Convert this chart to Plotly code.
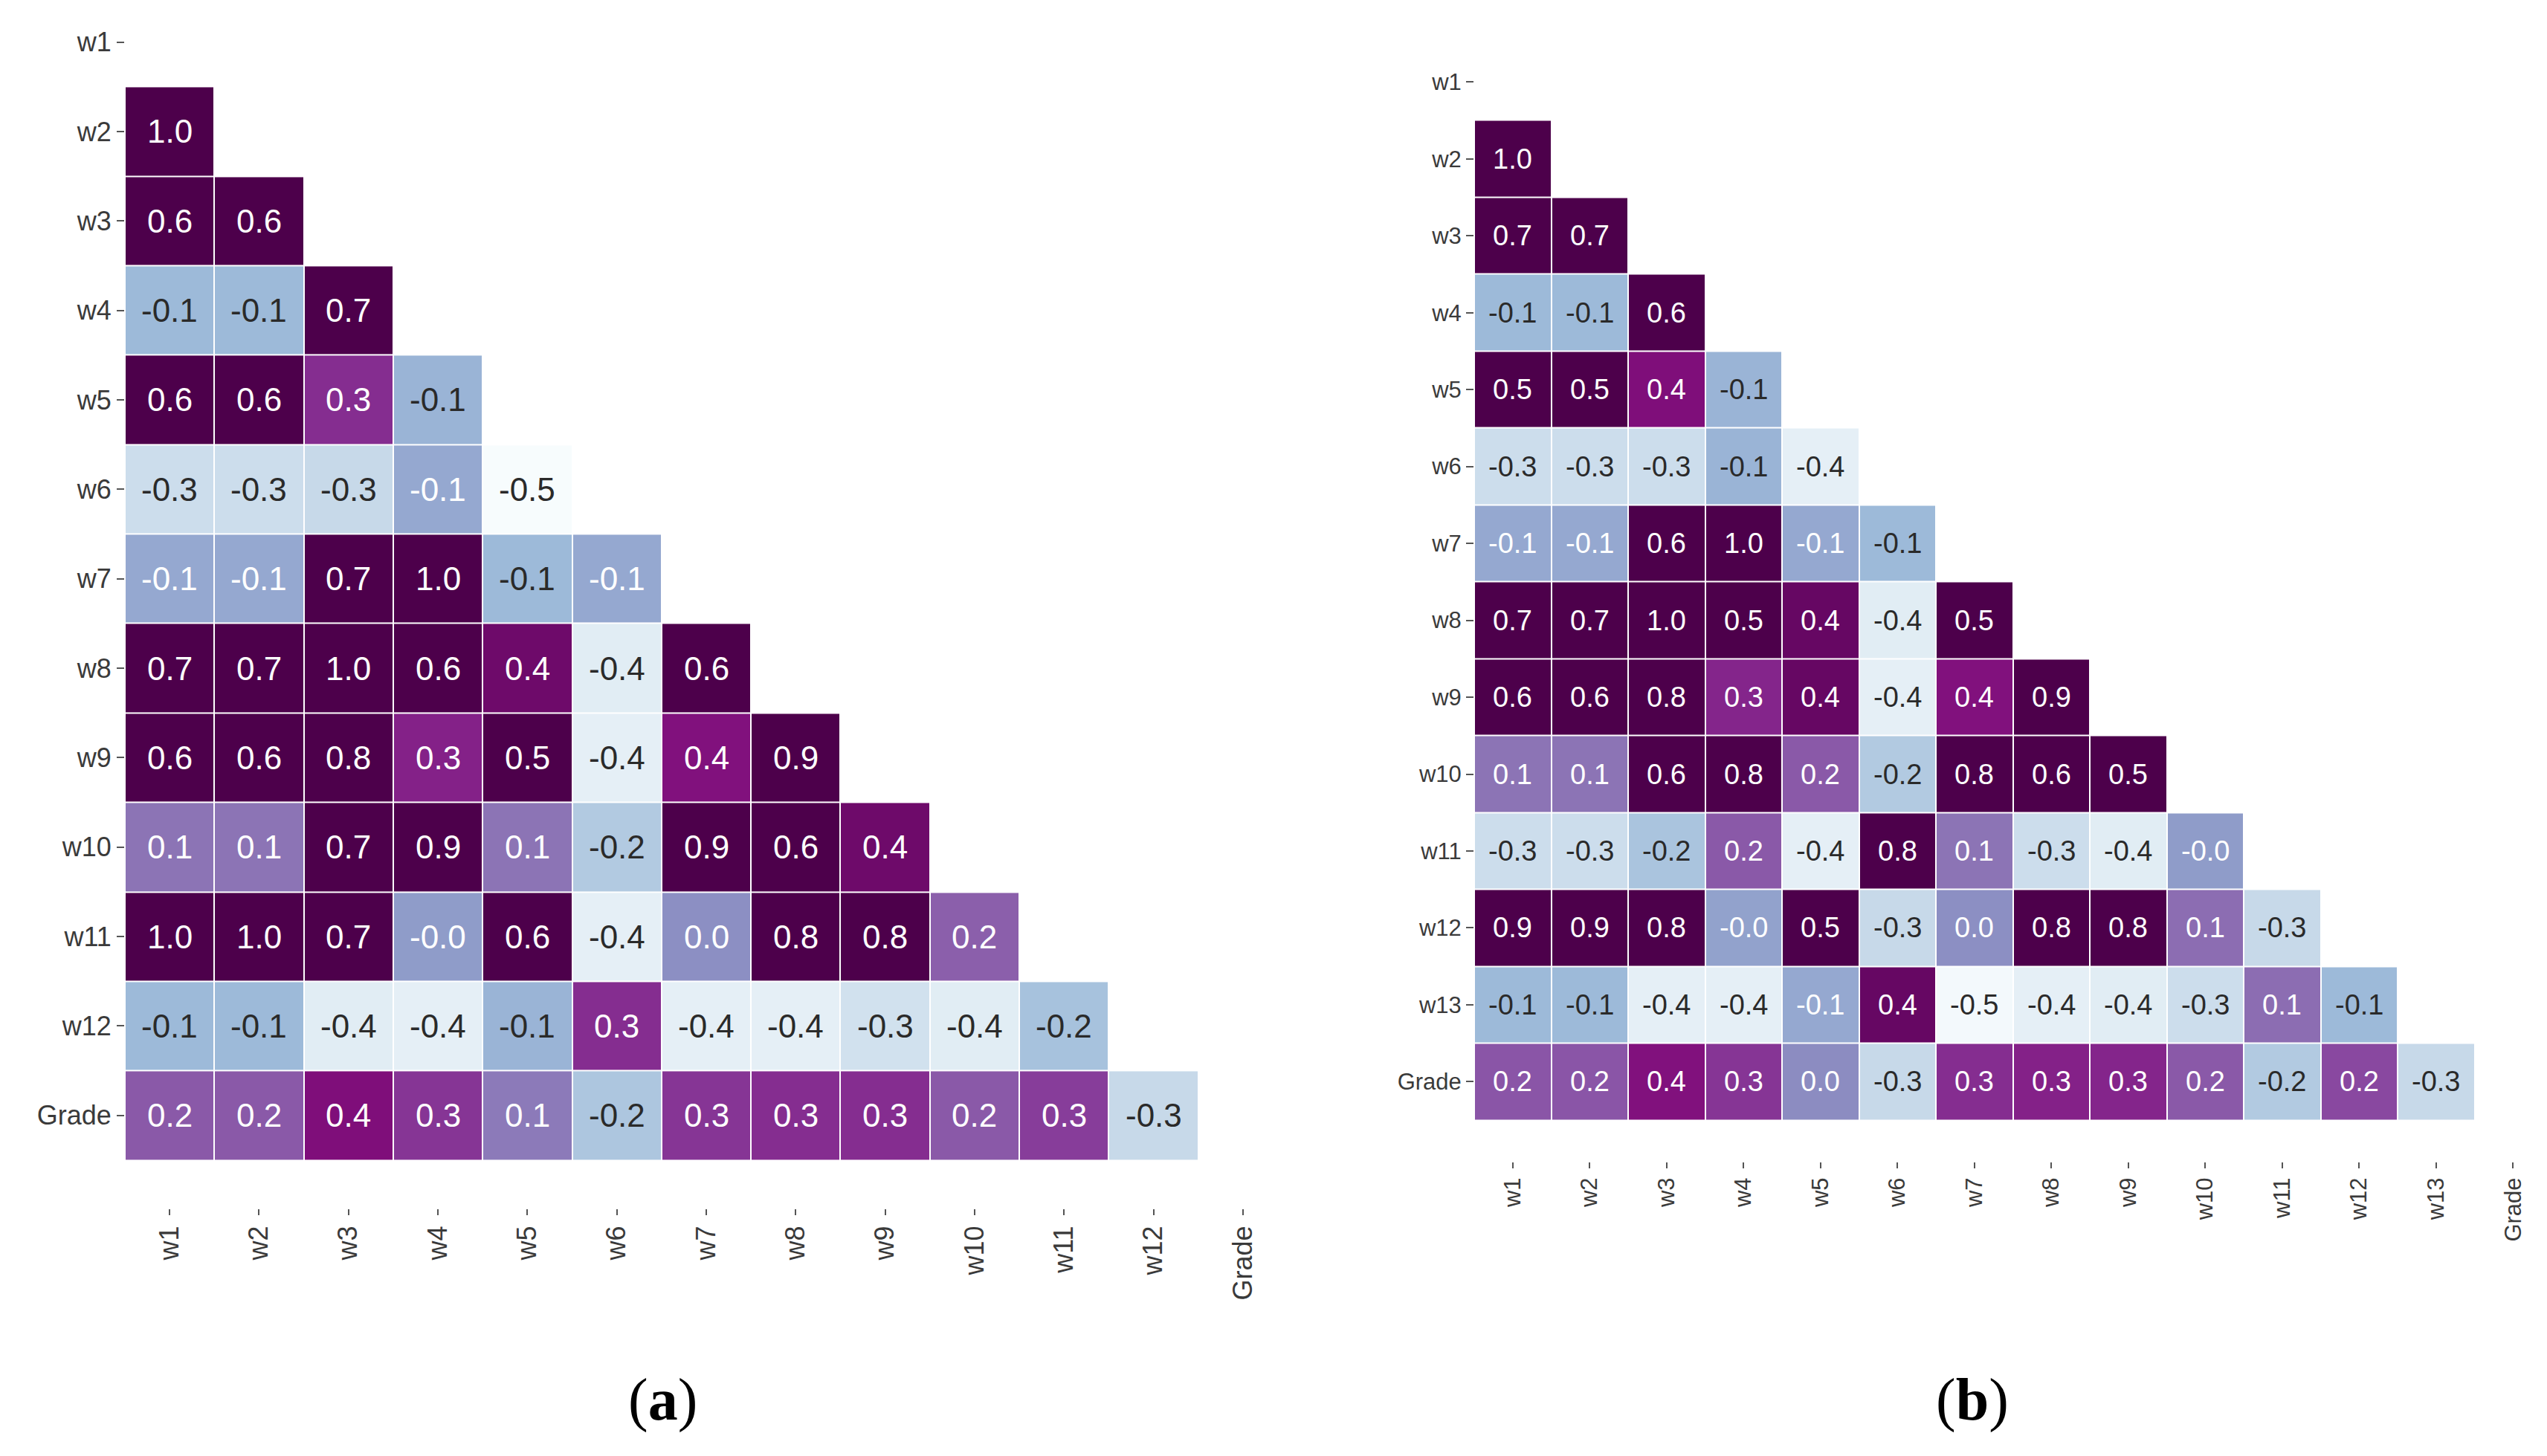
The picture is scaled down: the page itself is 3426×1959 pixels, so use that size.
import plotly.graph_objects as go
import plotly.colors as pc

# ---------------- data ----------------
labels_a = ["w1", "w2", "w3", "w4", "w5", "w6", "w7", "w8", "w9", "w10", "w11", "w12", "Grade"]
labels_b = ["w1", "w2", "w3", "w4", "w5", "w6", "w7", "w8", "w9", "w10", "w11", "w12", "w13", "Grade"]

# lower-triangular correlation rows (row i has i values: columns w1..)
rows_a = [
    [],
    [1.00],
    [0.62, 0.62],
    [-0.12, -0.12, 0.70],
    [0.60, 0.60, 0.30, -0.10],
    [-0.30, -0.30, -0.28, -0.06, -0.50],
    [-0.06, -0.06, 0.70, 1.00, -0.12, -0.06],
    [0.70, 0.70, 0.98, 0.60, 0.42, -0.38, 0.60],
    [0.60, 0.60, 0.80, 0.33, 0.50, -0.40, 0.37, 0.90],
    [0.10, 0.10, 0.70, 0.90, 0.10, -0.20, 0.90, 0.60, 0.42],
    [0.98, 0.98, 0.70, -0.02, 0.60, -0.40, 0.02, 0.80, 0.80, 0.16],
    [-0.12, -0.12, -0.38, -0.40, -0.10, 0.30, -0.40, -0.40, -0.32, -0.38, -0.16],
    [0.18, 0.18, 0.38, 0.28, 0.08, -0.18, 0.28, 0.30, 0.30, 0.18, 0.26, -0.28],
]

rows_b = [
    [],
    [1.00],
    [0.70, 0.70],
    [-0.12, -0.12, 0.60],
    [0.50, 0.50, 0.38, -0.10],
    [-0.30, -0.30, -0.30, -0.10, -0.40],
    [-0.06, -0.06, 0.60, 1.00, -0.06, -0.12],
    [0.70, 0.70, 0.98, 0.50, 0.44, -0.38, 0.50],
    [0.60, 0.60, 0.80, 0.32, 0.44, -0.40, 0.37, 0.90],
    [0.10, 0.10, 0.60, 0.80, 0.18, -0.20, 0.80, 0.60, 0.50],
    [-0.30, -0.30, -0.17, 0.18, -0.40, 0.80, 0.10, -0.30, -0.38, -0.02],
    [0.90, 0.90, 0.80, -0.04, 0.50, -0.28, 0.02, 0.80, 0.80, 0.12, -0.28],
    [-0.12, -0.12, -0.40, -0.40, -0.06, 0.44, -0.48, -0.40, -0.38, -0.30, 0.12, -0.12],
    [0.19, 0.19, 0.37, 0.28, 0.03, -0.28, 0.30, 0.33, 0.32, 0.18, -0.20, 0.23, -0.28],
]

captions = ["(<b>a</b>)", "(<b>b</b>)"]

# ---------------- styling helpers ----------------
ZMIN, ZMAX = -0.5, 0.5
SCALE = pc.sequential.BuPu


def to_matrix(rows, n):
    return [r + [None] * (n - len(r)) for r in rows]


def cell_color(v):
    t = min(max((v - ZMIN) / (ZMAX - ZMIN), 0.0), 1.0)
    return pc.sample_colorscale(pc.make_colorscale(SCALE), [t])[0]


def lum(rgb):
    vals = [float(c) for c in rgb[rgb.index("(") + 1:-1].split(",")[:3]]
    out = []
    for c in vals:
        c /= 255.0
        out.append(c / 12.92 if c <= 0.03928 else ((c + 0.055) / 1.055) ** 2.4)
    return 0.2126 * out[0] + 0.7152 * out[1] + 0.0722 * out[2]


def text_color(v):
    return "#2a2a2a" if lum(cell_color(v)) > 0.408 else "#ffffff"


fig = go.Figure()
annotations = []

panels = [
    dict(labels=labels_a, rows=rows_a, xa="x", ya="y", fs=44),
    dict(labels=labels_b, rows=rows_b, xa="x2", ya="y2", fs=38),
]

for p in panels:
    n = len(p["labels"])
    z = to_matrix(p["rows"], n)
    fig.add_trace(go.Heatmap(
        z=z, x=list(range(n)), y=list(range(n)),
        colorscale="BuPu", zmin=ZMIN, zmax=ZMAX, showscale=False,
        xgap=2, ygap=2, xaxis=p["xa"], yaxis=p["ya"], hoverongaps=False,
    ))
    for i, r in enumerate(p["rows"]):
        for j, v in enumerate(r):
            annotations.append(dict(
                x=j, y=i, xref=p["xa"], yref=p["ya"], text=f"{v:.1f}",
                showarrow=False,
                font=dict(family="Liberation Sans, Arial, sans-serif", size=p["fs"], color=text_color(v)),
            ))

for txt, xpos in zip(captions, [0.2601, 0.7744]):
    annotations.append(dict(
        x=xpos, y=0.0385, xref="paper", yref="paper", text=txt, showarrow=False,
        xanchor="center", yanchor="middle",
        font=dict(family="Liberation Serif, Times New Roman, serif", size=80, color="#000000"),
    ))

W, H = 3426, 1959
tick_font_a = dict(family="Liberation Sans, Arial, sans-serif", size=36, color="#3a3a3a")
tick_font_b = dict(family="Liberation Sans, Arial, sans-serif", size=31, color="#3a3a3a")
common = dict(showgrid=False, zeroline=False, showline=False, ticks="outside",
              tickwidth=2, tickcolor="#555555", automargin=False)

fig.update_layout(
    width=W, height=H,
    margin=dict(l=0, r=0, t=0, b=0),
    paper_bgcolor="white", plot_bgcolor="white",
    annotations=annotations,
    xaxis=dict(domain=[168 / W, 1732 / W], range=[-0.5, 12.5],
               tickvals=list(range(len(labels_a))), ticktext=labels_a,
               tickangle=-90, ticklen=8, tickfont=tick_font_a, anchor="y", **common),
    yaxis=dict(domain=[1 - 1626 / H, 1.0], range=[13.04, -0.47],
               tickvals=list(range(len(labels_a))), ticktext=labels_a,
               ticklen=10, tickfont=tick_font_a, anchor="x", **common),
    xaxis2=dict(domain=[1983 / W, 1.0], range=[-0.5, 13.44],
                tickvals=list(range(len(labels_b))), ticktext=labels_b,
                tickangle=-90, ticklen=8, tickfont=tick_font_b, anchor="y2", **common),
    yaxis2=dict(domain=[1 - 1563 / H, 1 - 58.5 / H], range=[14.04, -0.5],
                tickvals=list(range(len(labels_b))), ticktext=labels_b,
                ticklen=10, tickfont=tick_font_b, anchor="x2", **common),
)

fig.write_html(
    "out.html",
    config={"displayModeBar": False},
    post_script="document.body.style.margin='0';document.body.style.overflow='hidden';",
)
